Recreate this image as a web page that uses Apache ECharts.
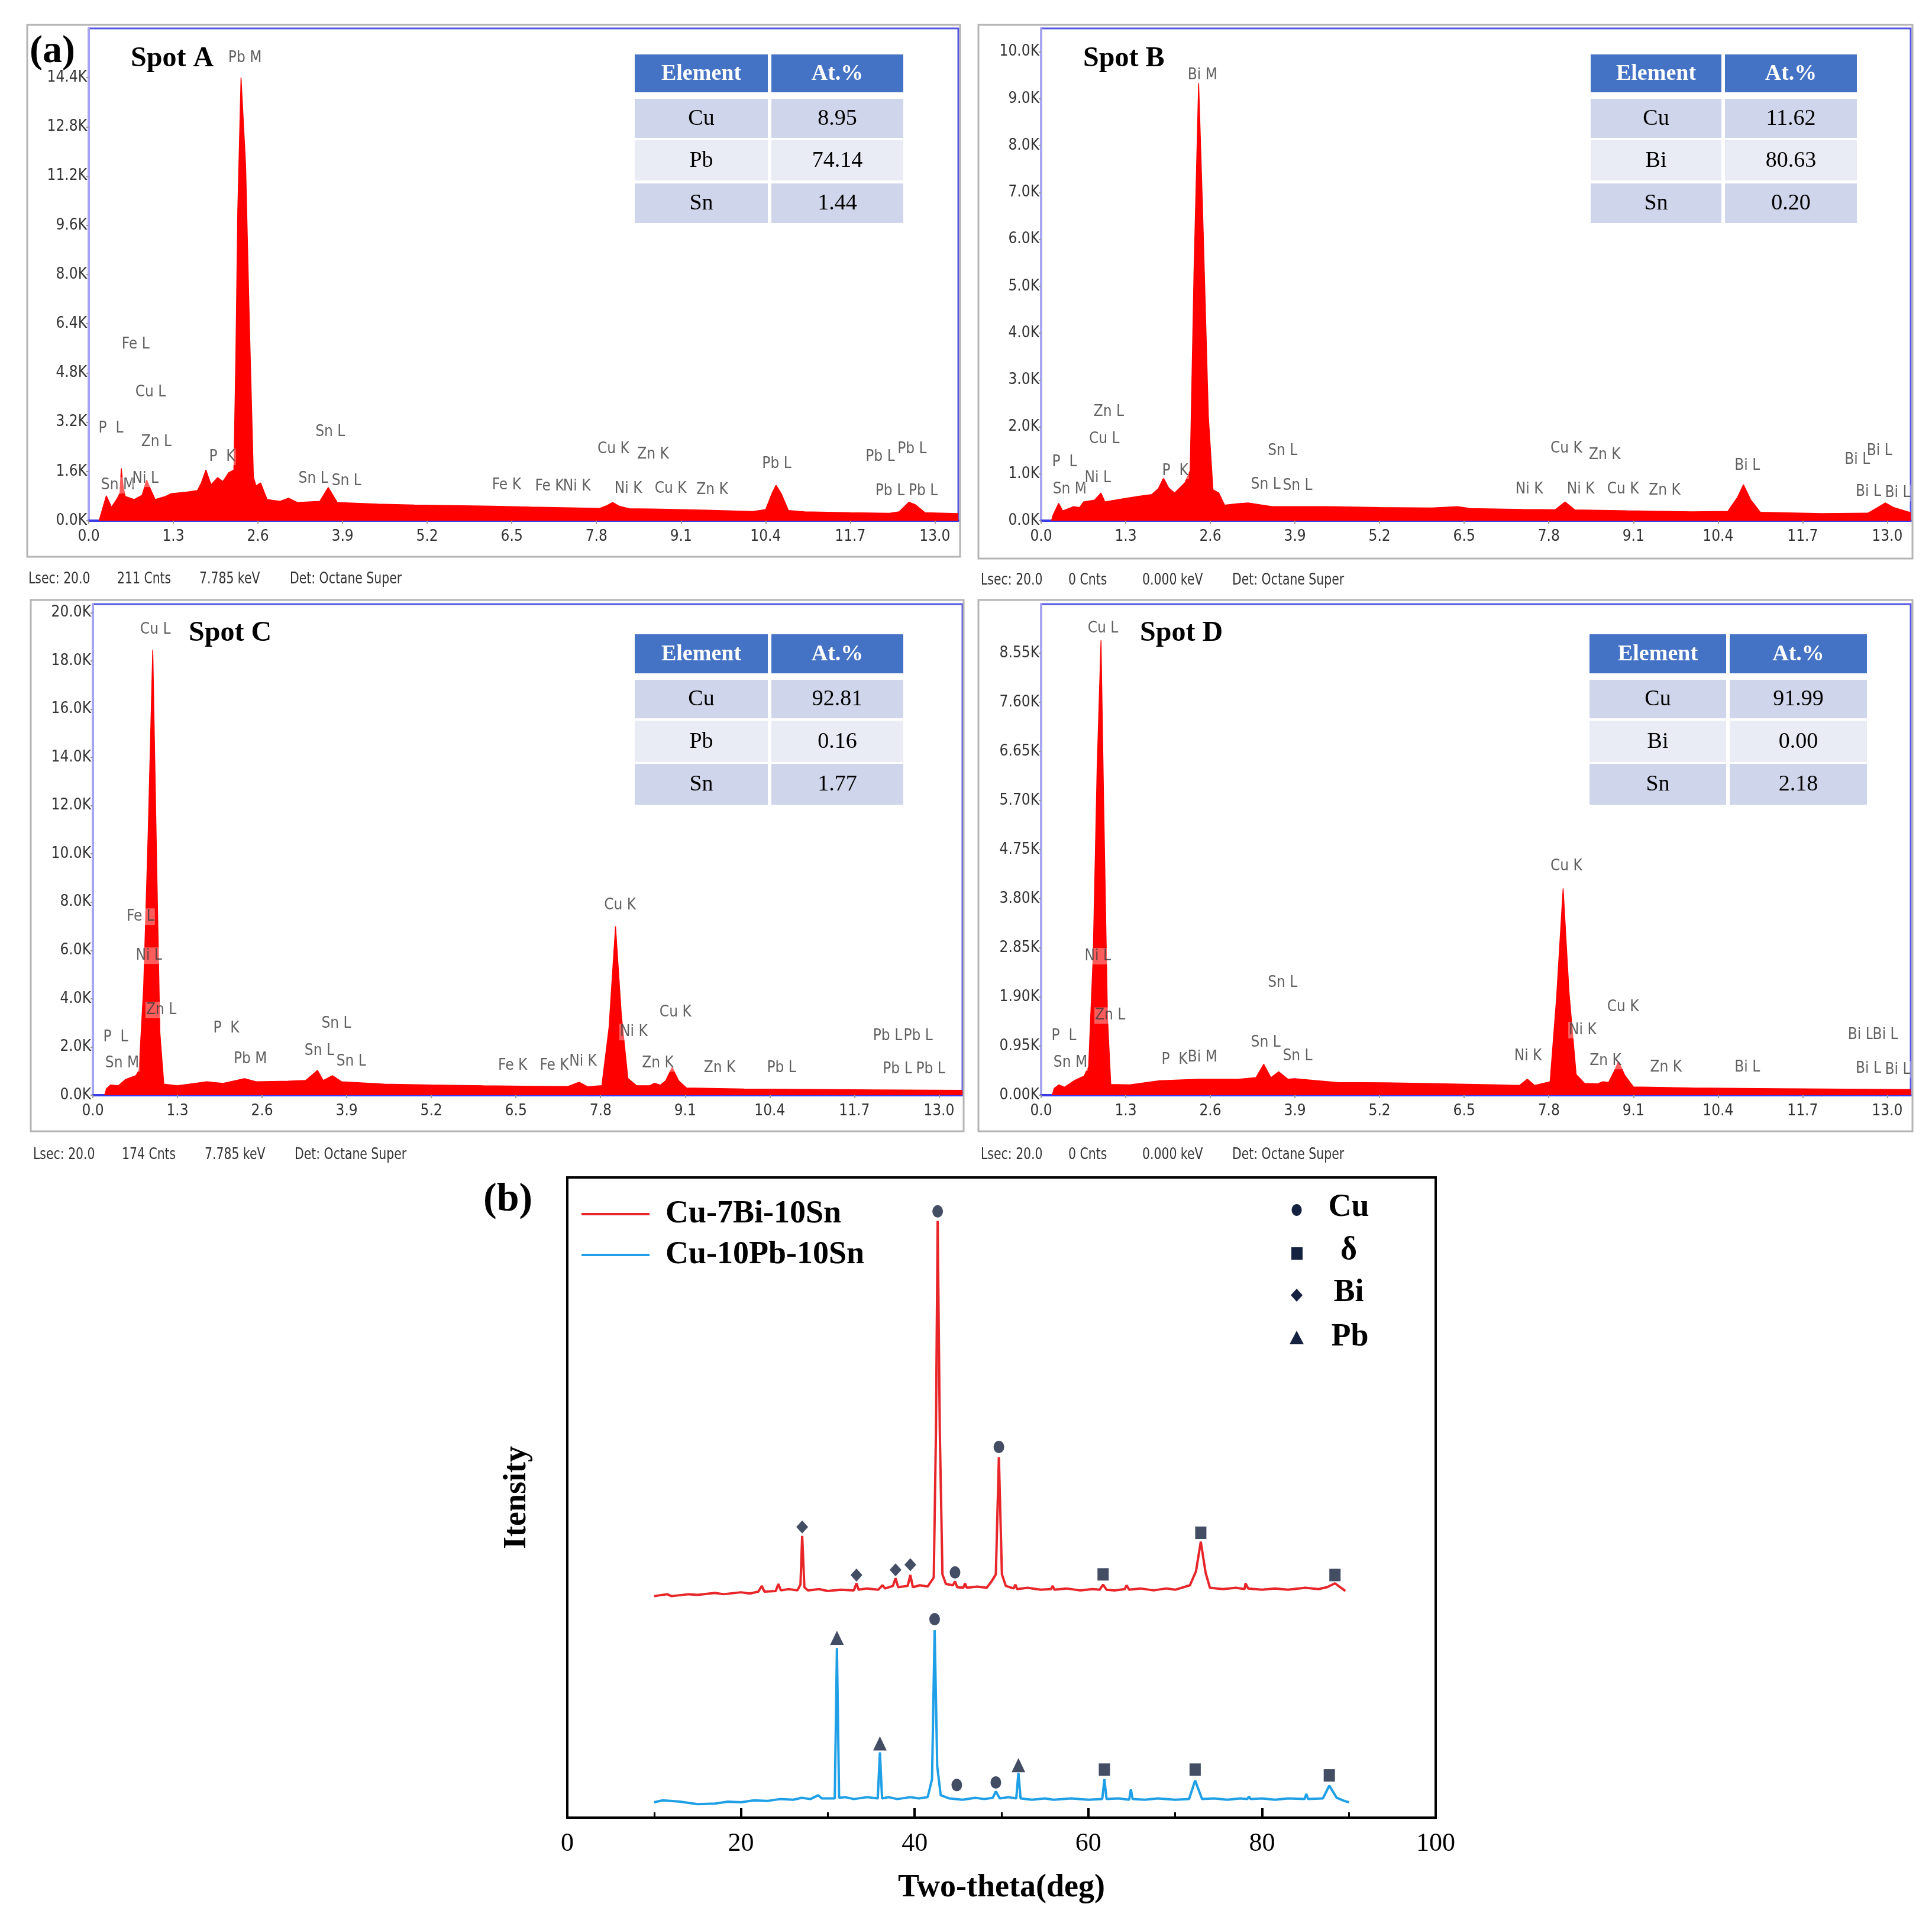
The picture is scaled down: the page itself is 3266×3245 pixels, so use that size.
<!DOCTYPE html>
<html>
<head>
<meta charset="utf-8">
<script src="https://cdn.jsdelivr.net/npm/echarts@6/dist/echarts.min.js"></script>
<style>
html, body { margin: 0; padding: 0; background: #fff; }
#chart { width: 3266px; height: 3245px; }
</style>
</head>
<body>
<div id="chart"></div>
<script>
// EDS spectra, [keV, counts]
var spotA = [[0.16,0],[0.18,150],[0.27,810],[0.35,440],[0.44,730],[0.48,900],[0.50,1700],[0.53,1100],[0.56,790],[0.70,690],[0.82,830],[0.89,1320],[0.95,1020],[1.02,690],[1.18,790],[1.27,880],[1.50,930],[1.67,980],[1.73,1230],[1.80,1650],[1.88,1170],[1.98,1400],[2.06,1270],[2.15,1560],[2.23,1650],[2.26,5280],[2.29,10100],[2.34,14400],[2.41,11580],[2.47,6260],[2.53,1420],[2.57,1130],[2.64,1230],[2.74,690],[2.94,630],[3.07,730],[3.21,590],[3.55,630],[3.68,1080],[3.82,590],[4.45,540],[5.0,510],[5.6,490],[6.2,470],[6.8,440],[7.4,420],[7.85,400],[7.95,480],[8.05,595],[8.15,470],[8.3,390],[8.65,380],[8.9,370],[9.5,340],[10.2,300],[10.4,360],[10.5,900],[10.56,1150],[10.64,880],[10.75,330],[11.0,290],[11.7,260],[12.3,240],[12.45,290],[12.6,600],[12.7,520],[12.85,260],[13.36,230]];
var spotB = [[0.16,0],[0.18,110],[0.27,370],[0.33,210],[0.50,300],[0.59,280],[0.65,400],[0.82,440],[0.92,590],[0.98,400],[1.27,470],[1.50,520],[1.70,560],[1.80,680],[1.88,910],[1.96,700],[2.05,590],[2.21,810],[2.29,1070],[2.35,5390],[2.42,9340],[2.48,6660],[2.57,2210],[2.64,660],[2.73,590],[2.82,330],[3.0,360],[3.18,380],[3.55,300],[4.45,300],[5.2,280],[6.0,270],[6.4,300],[6.6,260],[7.4,240],[7.9,235],[8.05,400],[8.2,230],[9.0,210],[10.0,190],[10.55,200],[10.7,500],[10.79,770],[10.9,450],[11.05,180],[12.0,150],[12.7,160],[12.85,280],[12.97,380],[13.1,280],[13.36,170]];
var spotC = [[0.18,0],[0.21,270],[0.27,420],[0.39,390],[0.50,650],[0.66,810],[0.71,1030],[0.78,4480],[0.85,10900],[0.92,18460],[0.98,9630],[1.03,2570],[1.09,460],[1.30,390],[1.75,560],[2.00,490],[2.33,690],[2.51,560],[3.0,580],[3.27,610],[3.45,1030],[3.54,610],[3.68,810],[3.82,560],[4.48,460],[5.2,420],[6.0,390],[6.8,370],[7.3,360],[7.47,540],[7.6,350],[7.82,400],[7.93,2800],[8.03,7000],[8.12,3300],[8.22,700],[8.35,400],[8.55,390],[8.63,500],[8.72,420],[8.8,600],[8.9,1150],[9.0,600],[9.12,300],[10.0,260],[11.0,240],[12.0,220],[13.36,200]];
var spotD = [[0.17,0],[0.20,130],[0.27,200],[0.36,155],[0.52,290],[0.66,370],[0.73,550],[0.80,2700],[0.86,6300],[0.92,8800],[0.96,5700],[1.02,1500],[1.07,210],[1.36,200],[1.82,280],[2.42,310],[3.03,310],[3.30,340],[3.42,600],[3.53,340],[3.65,455],[3.79,310],[3.89,320],[4.55,245],[5.3,240],[6.2,220],[7.0,200],[7.35,190],[7.47,310],[7.58,190],[7.82,260],[7.92,1900],[8.02,4000],[8.11,2000],[8.22,400],[8.35,230],[8.55,220],[8.63,260],[8.72,250],[8.8,450],[8.87,650],[8.97,380],[9.1,160],[10.0,140],[11.0,130],[12.0,120],[13.36,110]];

// peak labels, [keV, counts, text]
var labelsA = [[2.40,15030,'Pb M'],[0.72,5720,'Fe L'],[0.95,4170,'Cu L'],[0.34,3000,'P  L'],[1.04,2550,'Zn L'],[3.71,2880,'Sn L'],[2.05,2070,'P  K'],[0.45,1150,'Sn M'],[0.87,1360,'Ni L'],[3.45,1360,'Sn L'],[3.96,1290,'Sn L'],[6.42,1150,'Fe K'],[7.08,1110,'Fe K'],[7.50,1110,'Ni K'],[8.06,2320,'Cu K'],[8.67,2150,'Zn K'],[8.29,1040,'Ni K'],[8.94,1040,'Cu K'],[9.58,1000,'Zn K'],[10.57,1840,'Pb L'],[12.16,2070,'Pb L'],[12.65,2320,'Pb L'],[12.31,960,'Pb L'],[12.82,960,'Pb L']];
var labelsB = [[2.48,9500,'Bi M'],[1.04,2320,'Zn L'],[0.97,1740,'Cu L'],[0.36,1250,'P  L'],[0.44,670,'Sn M'],[0.87,910,'Ni L'],[2.06,1060,'P  K'],[3.71,1490,'Sn L'],[3.45,770,'Sn L'],[3.94,745,'Sn L'],[7.50,670,'Ni K'],[8.07,1540,'Cu K'],[8.66,1400,'Zn K'],[8.29,670,'Ni K'],[8.94,670,'Cu K'],[9.58,640,'Zn K'],[10.85,1170,'Bi L'],[12.54,1300,'Bi L'],[12.88,1490,'Bi L'],[12.71,620,'Bi L'],[13.16,590,'Bi L']];
var labelsC = [[0.96,19300,'Cu L'],[0.73,7400,'Fe L'],[0.86,5780,'Ni L'],[1.05,3530,'Zn L'],[0.35,2400,'P  L'],[0.45,1320,'Sn M'],[2.05,2770,'P  K'],[2.42,1490,'Pb M'],[3.74,2960,'Sn L'],[3.48,1840,'Sn L'],[3.97,1400,'Sn L'],[6.45,1230,'Fe K'],[7.09,1230,'Fe K'],[7.53,1400,'Ni K'],[8.10,7860,'Cu K'],[8.31,2620,'Ni K'],[8.95,3430,'Cu K'],[8.68,1320,'Zn K'],[9.63,1130,'Zn K'],[10.58,1130,'Pb L'],[12.21,2450,'Pb L'],[12.68,2450,'Pb L'],[12.36,1080,'Pb L'],[12.87,1080,'Pb L']];
var labelsD = [[0.95,9030,'Cu L'],[0.87,2690,'Ni L'],[1.06,1540,'Zn L'],[0.35,1140,'P  L'],[0.45,630,'Sn M'],[2.05,680,'P  K'],[2.48,730,'Bi M'],[3.71,2170,'Sn L'],[3.45,1020,'Sn L'],[3.94,750,'Sn L'],[7.48,750,'Ni K'],[8.07,4430,'Cu K'],[8.32,1260,'Ni K'],[8.94,1700,'Cu K'],[8.67,660,'Zn K'],[9.60,530,'Zn K'],[10.85,530,'Bi L'],[12.59,1160,'Bi L'],[12.97,1160,'Bi L'],[12.71,515,'Bi L'],[13.16,495,'Bi L']];

// y axis ranges of the four spectra
var countMax = [16000, 10500, 20350, 9500];
var countStep = [1600, 1000, 2000, 950];
var countDigits = [1, 1, 1, 2];

// composition tables
var tableA = [['Cu','8.95'],['Pb','74.14'],['Sn','1.44']];
var tableB = [['Cu','11.62'],['Bi','80.63'],['Sn','0.20']];
var tableC = [['Cu','92.81'],['Pb','0.16'],['Sn','1.77']];
var tableD = [['Cu','91.99'],['Bi','0.00'],['Sn','2.18']];
var spotNames = ['Spot A', 'Spot B', 'Spot C', 'Spot D'];
var footers = [
  ['Lsec: 20.0', '211 Cnts', '7.785 keV', 'Det: Octane Super'],
  ['Lsec: 20.0', '0 Cnts', '0.000 keV', 'Det: Octane Super'],
  ['Lsec: 20.0', '174 Cnts', '7.785 keV', 'Det: Octane Super'],
  ['Lsec: 20.0', '0 Cnts', '0.000 keV', 'Det: Octane Super']
];

// XRD patterns, [2theta, intensity]
var xrdBi = [[10.0,34.6],[11.5,34.9],[12,34.6],[14,34.9],[15,34.8],[17,35.1],[18,34.9],[20,35.2],[21,35.0],[22,35.3],[22.4,36.2],[22.7,35.3],[24.0,35.4],[24.3,36.5],[24.6,35.5],[25.5,35.7],[26.5,35.5],[26.85,36.4],[27.05,44.0],[27.3,36.0],[27.7,35.5],[29,35.7],[30,35.4],[31.5,35.6],[33.0,35.5],[33.3,36.6],[33.55,35.6],[34.5,35.8],[35.8,35.6],[36.3,36.3],[36.6,35.8],[37.5,36.2],[37.8,37.4],[38.1,36.0],[39.2,36.2],[39.5,37.9],[39.8,36.0],[40.6,36.3],[41.5,36.1],[42.2,37.5],[42.45,60],[42.65,93.2],[42.9,60],[43.2,38],[43.6,36.5],[44.4,36.3],[44.65,36.9],[44.9,36.0],[45.6,35.9],[45.8,36.6],[46.0,35.9],[47.2,36.1],[48.3,35.9],[48.8,36.8],[49.35,38],[49.7,56.3],[50.05,38],[50.5,36.2],[51.4,35.8],[51.6,36.4],[51.8,35.7],[53,35.9],[54.5,35.6],[55.7,35.7],[55.9,36.2],[56.1,35.6],[57.5,35.8],[59,35.5],[60.5,35.7],[61.3,35.6],[61.7,36.4],[62.1,35.6],[63,35.5],[64.2,35.7],[64.4,36.3],[64.7,35.6],[66,35.8],[67.5,35.5],[69,35.8],[70,35.6],[71.7,36.3],[72.4,38.5],[72.95,43.1],[73.5,38.3],[74.0,35.9],[75.5,35.7],[77,35.9],[78.0,35.7],[78.1,36.6],[78.4,35.8],[80,35.6],[81.5,35.8],[83,35.6],[85,35.9],[86.5,35.7],[87.5,36.0],[88.4,36.6],[89.2,35.8],[89.6,35.4]];
var xrdPb = [[10.0,2.4],[11,2.7],[13,2.5],[15,2.1],[17,2.2],[18.5,2.5],[20,2.4],[21.5,2.7],[23,2.6],[24.5,2.9],[26,2.8],[27,3.1],[28,2.9],[28.9,3.5],[29.3,3.0],[30.8,3.0],[31.05,26.5],[31.3,3.1],[32,3.2],[33,2.9],[34.5,3.2],[35.75,3.0],[36.0,10.2],[36.25,3.0],[37,3.2],[38,2.9],[39.5,3.2],[40.5,3.0],[41.5,3.2],[42.0,6],[42.3,29.3],[42.6,8],[43.0,3.5],[44,3.0],[45.5,2.8],[47,3.1],[48,2.9],[49.0,3.1],[49.35,4.1],[49.8,3.0],[50.8,3.2],[51.7,3.0],[51.95,7.0],[52.2,3.0],[53.5,2.8],[55,3.0],[56,2.8],[58,3.0],[60,2.8],[61.6,2.9],[61.85,6.0],[62.1,2.9],[63.5,3.0],[64.7,2.8],[64.9,4.4],[65.1,2.9],[66.5,2.8],[68,3.0],[70,2.8],[71.6,2.9],[72.3,5.8],[73.1,2.9],[74.5,3.0],[76,2.8],[77.5,3.0],[78.3,2.9],[78.5,3.3],[78.7,2.9],[80,3.0],[81.5,2.8],[83,3.0],[84.9,2.9],[85.1,3.7],[85.3,2.9],[87.0,3.0],[87.75,5.0],[88.6,3.1],[89.5,2.6],[90.0,2.4]];

// phase markers, [2theta, intensity]
var markCu = [[42.65,94.7],[49.7,57.9],[44.65,38.3],[42.3,31.0],[44.85,5.1],[49.35,5.5]];
var markDelta = [[61.7,38.0],[72.95,44.5],[88.4,37.9],[61.85,7.5],[72.3,7.5],[87.75,6.6]];
var markBi = [[27.05,45.4],[33.3,37.9],[37.8,38.7],[39.5,39.5]];
var markPb = [[31.05,28.1],[36.0,11.6],[51.95,8.2]];

var xrdTicks = [0, 20, 40, 60, 80, 100];

var NARROW = '"Liberation Sans Narrow", "DejaVu Sans Condensed", sans-serif';
var SERIF = '"Liberation Serif", "Times New Roman", serif';

var edsGrids = [
  { left: 150, top: 48, width: 1470, height: 832 },
  { left: 1760, top: 48, width: 1470, height: 832 },
  { left: 157, top: 1021, width: 1470, height: 830 },
  { left: 1760, top: 1021, width: 1470, height: 830 }
];
var frames = [[46, 42, 1577, 899], [1654, 42, 1579, 902], [52, 1014, 1577, 898], [1654, 1014, 1579, 898]];
var titlePos = [[221, 100], [1831, 100], [319, 1071], [1927, 1071]];
var footerPos = [
  [[48, 198, 337, 490], 979],
  [[1658, 1806, 1931, 2083], 981],
  [[56, 206, 346, 498], 1952],
  [[1658, 1806, 1931, 2083], 1952]
];
var tablePos = [
  { cols: [[1073, 1298], [1304, 1527]], rows: [[92, 156], [167, 233], [237, 305], [310, 377]] },
  { cols: [[2689, 2910], [2916, 3139]], rows: [[92, 156], [167, 233], [237, 305], [310, 377]] },
  { cols: [[1073, 1298], [1304, 1527]], rows: [[1072, 1138], [1149, 1214], [1218, 1288], [1291, 1360]] },
  { cols: [[2687, 2918], [2924, 3156]], rows: [[1072, 1138], [1149, 1214], [1218, 1288], [1291, 1360]] }
];
var spectra = [spotA, spotB, spotC, spotD];
var peakLabels = [labelsA, labelsB, labelsC, labelsD];
var tables = [tableA, tableB, tableC, tableD];

var chart = echarts.init(document.getElementById('chart'), null, { renderer: 'canvas' });

var grids = [], xAxes = [], yAxes = [], series = [], graphics = [];

function txt(s, x, y, font, fill, align, sx) {
  return {
    type: 'text', z: 10, x: x, y: y, scaleX: sx || 1,
    style: { text: s, x: 0, y: 0, font: font, fill: fill || '#000',
      textAlign: align || 'left', textVerticalAlign: 'middle', align: align || 'left', verticalAlign: 'middle' }
  };
}
function rect(x, y, w, h, fill, stroke, lw) {
  return { type: 'rect', z: 1, shape: { x: x, y: y, width: w, height: h },
    style: { fill: fill || 'none', stroke: stroke || null, lineWidth: lw || 0 } };
}

for (var i = 0; i < 4; i++) {
  (function (i) {
    var g = edsGrids[i];
    grids.push({ left: g.left, top: g.top, width: g.width, height: g.height, show: true,
      borderColor: '#5656e4', borderWidth: 3, backgroundColor: 'transparent' });
    xAxes.push({
      type: 'value', gridIndex: i, min: 0, max: 13.36, interval: 1.3,
      axisLine: { show: true, lineStyle: { color: '#3c3ce6', width: 4 } },
      axisTick: { show: true, length: 5, lineStyle: { color: '#999', width: 2 } },
      axisLabel: { margin: 14, fontFamily: NARROW, fontSize: 26, color: '#333', showMaxLabel: false,
        formatter: function (v) { return v.toFixed(1); } },
      splitLine: { show: false }
    });
    yAxes.push({
      type: 'value', gridIndex: i, min: 0, max: countMax[i], interval: countStep[i],
      axisLine: { show: true, lineStyle: { color: '#a4a4f2', width: 3 } },
      axisTick: { show: true, length: 4, lineStyle: { color: '#999', width: 2 } },
      axisLabel: { margin: 3, fontFamily: NARROW, fontSize: 26, color: '#333', showMaxLabel: false,
        formatter: function (v) { return (v / 1000).toFixed(countDigits[i]) + 'K'; } },
      splitLine: { show: false }
    });
    series.push({
      type: 'line', xAxisIndex: i, yAxisIndex: i, data: spectra[i], symbol: 'none',
      lineStyle: { color: '#ff0000', width: 1.5 }, areaStyle: { color: '#ff0000', opacity: 1 },
      silent: true, z: 2
    });
    series.push({
      type: 'scatter', xAxisIndex: i, yAxisIndex: i, data: peakLabels[i], symbolSize: 1,
      itemStyle: { color: 'rgba(0,0,0,0)' }, silent: true, z: 5,
      label: { show: true, position: 'inside', formatter: function (p) { return p.data[2]; },
        fontFamily: NARROW, fontSize: 26, color: '#3a3a3a',
        backgroundColor: 'rgba(255,255,255,0.45)', padding: [1, 1] }
    });

    var f = frames[i];
    graphics.push(rect(f[0], f[1], f[2], f[3], 'none', '#b4b4b4', 3));
    graphics.push(txt(spotNames[i], titlePos[i][0], titlePos[i][1], 'bold 48px ' + SERIF, '#000'));
    var fp = footerPos[i];
    for (var k = 0; k < 4; k++) {
      graphics.push(txt(footers[i][k], fp[0][k], fp[1], '27px ' + NARROW, '#333', 'left', 0.84));
    }
    var tp = tablePos[i];
    var head = ['Element', 'At.%'];
    for (var r = 0; r < 4; r++) {
      var ry = tp.rows[r];
      for (var c = 0; c < 2; c++) {
        var cx = tp.cols[c];
        var fill = r === 0 ? '#4472c4' : (r % 2 === 1 ? '#cfd5ea' : '#e9ebf5');
        graphics.push(rect(cx[0], ry[0], cx[1] - cx[0], ry[1] - ry[0], fill));
        var s = r === 0 ? head[c] : tables[i][r - 1][c];
        graphics.push(txt(s, (cx[0] + cx[1]) / 2, (ry[0] + ry[1]) / 2 + 1,
          (r === 0 ? 'bold ' : '') + '38px ' + SERIF, r === 0 ? '#fff' : '#000', 'center'));
      }
    }
  })(i);
}

// XRD panel
grids.push({ left: 959, top: 1990, width: 1468, height: 1082, show: true, borderColor: '#000', borderWidth: 4 });
xAxes.push({
  type: 'value', gridIndex: 4, min: 0, max: 100, interval: 20,
  name: 'Two-theta(deg)', nameLocation: 'middle', nameGap: 92,
  nameTextStyle: { fontFamily: SERIF, fontWeight: 'bold', fontSize: 54, color: '#000' },
  axisLine: { show: true, lineStyle: { color: '#000', width: 4 } },
  axisTick: { show: true, inside: true, length: 16, lineStyle: { color: '#000', width: 4 } },
  minorTick: { show: true, splitNumber: 2, length: 9, lineStyle: { color: '#000', width: 3 } },
  axisLabel: { margin: 22, fontFamily: SERIF, fontSize: 44, color: '#000',
    formatter: function (v) { return xrdTicks.indexOf(v) >= 0 ? String(v) : ''; } },
  splitLine: { show: false }
});
yAxes.push({
  type: 'value', gridIndex: 4, min: 0, max: 100,
  name: 'Itensity', nameLocation: 'middle', nameGap: 58,
  nameTextStyle: { fontFamily: SERIF, fontWeight: 'bold', fontSize: 54, color: '#000' },
  axisLine: { show: false }, axisTick: { show: false }, axisLabel: { show: false }, splitLine: { show: false }
});
series.push({ type: 'line', name: 'Cu-7Bi-10Sn', xAxisIndex: 4, yAxisIndex: 4, data: xrdBi, symbol: 'none',
  lineStyle: { color: '#e8262a', width: 4 }, silent: true, z: 3 });
series.push({ type: 'line', name: 'Cu-10Pb-10Sn', xAxisIndex: 4, yAxisIndex: 4, data: xrdPb, symbol: 'none',
  lineStyle: { color: '#1e9fe6', width: 4 }, silent: true, z: 3 });
var markColor = '#14223f';
series.push({ type: 'scatter', xAxisIndex: 4, yAxisIndex: 4, data: markCu, symbol: 'circle', symbolSize: [18, 21],
  itemStyle: { color: markColor }, silent: true, z: 4 });
series.push({ type: 'scatter', xAxisIndex: 4, yAxisIndex: 4, data: markDelta, symbol: 'rect', symbolSize: [19, 21],
  itemStyle: { color: markColor }, silent: true, z: 4 });
series.push({ type: 'scatter', xAxisIndex: 4, yAxisIndex: 4, data: markBi, symbol: 'diamond', symbolSize: [20, 22],
  itemStyle: { color: markColor }, silent: true, z: 4 });
series.push({ type: 'scatter', xAxisIndex: 4, yAxisIndex: 4, data: markPb, symbol: 'triangle', symbolSize: [23, 24],
  itemStyle: { color: markColor }, silent: true, z: 4 });

// panel letters and XRD keys
graphics.push(txt('(a)', 50, 88, 'bold 66px ' + SERIF, '#000'));
graphics.push(txt('(b)', 817, 2028, 'bold 68px ' + SERIF, '#000'));
graphics.push({ type: 'line', z: 10, shape: { x1: 983, y1: 2052, x2: 1098, y2: 2052 }, style: { stroke: '#e8262a', lineWidth: 4 } });
graphics.push({ type: 'line', z: 10, shape: { x1: 983, y1: 2121, x2: 1098, y2: 2121 }, style: { stroke: '#1e9fe6', lineWidth: 4 } });
graphics.push(txt('Cu-7Bi-10Sn', 1125, 2052, 'bold 54px ' + SERIF, '#000'));
graphics.push(txt('Cu-10Pb-10Sn', 1125, 2121, 'bold 54px ' + SERIF, '#000'));
graphics.push({ type: 'ellipse', z: 10, shape: { cx: 2192, cy: 2045, rx: 8.5, ry: 10 }, style: { fill: markColor } });
graphics.push({ type: 'rect', z: 10, shape: { x: 2183, y: 2108, width: 19, height: 21 }, style: { fill: markColor } });
graphics.push({ type: 'polygon', z: 10, shape: { points: [[2192, 2178], [2202, 2189], [2192, 2200], [2182, 2189]] }, style: { fill: markColor } });
graphics.push({ type: 'polygon', z: 10, shape: { points: [[2192, 2249], [2204, 2272], [2180, 2272]] }, style: { fill: markColor } });
graphics.push(txt('Cu', 2280, 2041, 'bold 54px ' + SERIF, '#000', 'center'));
graphics.push(txt('\u03b4', 2280, 2114, 'bold 54px ' + SERIF, '#000', 'center'));
graphics.push(txt('Bi', 2280, 2185, 'bold 54px ' + SERIF, '#000', 'center'));
graphics.push(txt('Pb', 2282, 2260, 'bold 54px ' + SERIF, '#000', 'center'));

chart.setOption({
  animation: false,
  backgroundColor: '#ffffff',
  grid: grids,
  xAxis: xAxes,
  yAxis: yAxes,
  series: series,
  graphic: { elements: graphics }
});
</script>
</body>
</html>
